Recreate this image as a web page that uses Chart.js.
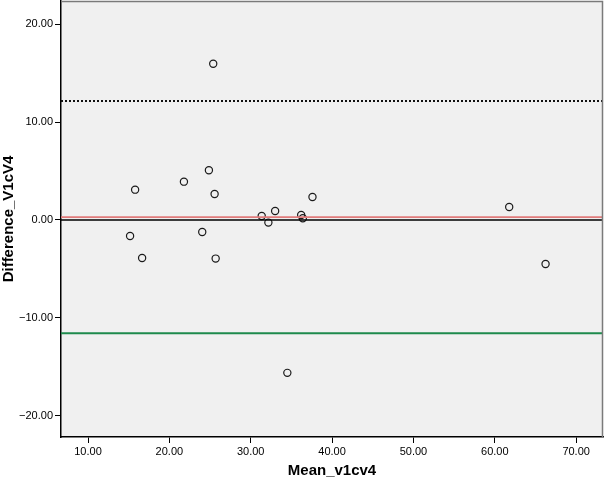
<!DOCTYPE html>
<html>
<head>
<meta charset="utf-8">
<script src="https://cdn.jsdelivr.net/npm/chart.js@4.4.1/dist/chart.umd.min.js"></script>
<style>
  html, body { margin: 0; padding: 0; background: #fff; }
  #wrap { width: 604px; height: 483px; }
</style>
</head>
<body>
<div id="wrap"><canvas id="c" width="604" height="483"></canvas></div>
<script>
// 資料: 平均值 vs 差值 (Bland-Altman)
const meanVals = [25.39, 15.79, 21.79, 24.86, 25.56, 15.17, 16.65, 24.04, 25.69,
                  31.35, 32.17, 33.00, 36.20, 36.40, 37.59, 61.77, 66.24, 34.50];
const diffVals = [15.98, 3.10, 3.92, 5.08, 2.66, -1.64, -3.89, -1.23, -3.95,
                  0.41, -0.27, 0.92, 0.51, 0.17, 2.35, 1.33, -4.50, -15.64];

const xTicks = [10, 20, 30, 40, 50, 60, 70];
const yTicks = [-20, -10, 0, 10, 20];

// 參考線: 平均差、上下限、零線
const meanDiff = 0.29;
const upperLimit = 12.17;
const lowerLimit = -11.59;
const zeroLine = 0;

const xMin = 6.68, xMax = 73.3;
const yMin = -22.2, yMax = 22.4;

const fmt = v => (v < 0 ? '\u2212' + Math.abs(v).toFixed(2) : v.toFixed(2));

function hLine(y) {
    return [{ x: xMin, y: y }, { x: xMax, y: y }];
}

// 背景與外框
const plotBg = {
    id: 'plotBg',
    beforeDraw(chart) {
        const { ctx, chartArea: a } = chart;
        ctx.save();
        ctx.fillStyle = '#f0f0f0';
        ctx.fillRect(a.left, a.top, a.right - a.left, a.bottom - a.top);
        ctx.restore();
    },
    afterDraw(chart) {
        const { ctx, chartArea: a } = chart;
        ctx.save();
        ctx.strokeStyle = '#7a7a7a';
        ctx.lineWidth = 1.5;
        ctx.beginPath();
        ctx.moveTo(a.left, a.top + 0.5);
        ctx.lineTo(a.right - 0.5, a.top + 0.5);
        ctx.lineTo(a.right - 0.5, a.bottom);
        ctx.stroke();
        ctx.restore();
    }
};

const lineDs = (data, color, width, dash) => ({
    type: 'line',
    data: data,
    borderColor: color,
    borderWidth: width,
    borderDash: dash || [],
    pointRadius: 0,
    fill: false
});

const tickFont = { family: '"Liberation Sans", Arial, sans-serif', size: 11 };
const titleFont = { family: '"Liberation Sans", Arial, sans-serif', size: 15, weight: 'bold' };

new Chart(document.getElementById('c').getContext('2d'), {
    type: 'scatter',
    data: {
        datasets: [
            lineDs(hLine(zeroLine), '#000000', 1.5),
            lineDs(hLine(meanDiff), '#e07b7b', 1.8),
            lineDs(hLine(upperLimit), '#111111', 2, [2, 2]),
            lineDs(hLine(lowerLimit), '#1e8a4c', 2),
            {
                data: meanVals.map((m, i) => ({ x: m, y: diffVals[i] })),
                pointStyle: 'circle',
                pointRadius: 3.6,
                pointBorderWidth: 1.2,
                borderColor: '#1a1a1a',
                backgroundColor: 'rgba(0,0,0,0)'
            }
        ]
    },
    options: {
        responsive: false,
        animation: false,
        layout: { autoPadding: false, padding: { top: 1, right: 1, left: 0, bottom: 0 } },
        plugins: { legend: { display: false }, tooltip: { enabled: false } },
        scales: {
            x: {
                type: 'linear',
                min: xMin,
                max: xMax,
                afterBuildTicks: s => { s.ticks = xTicks.map(v => ({ value: v })); },
                afterFit: s => { s.height = 46; s.paddingLeft = 0; s.paddingRight = 0; },
                grid: { drawOnChartArea: false, drawTicks: true, tickLength: 6, color: '#000', tickWidth: 1 },
                border: { display: true, color: '#000', width: 1.5 },
                ticks: {
                    color: '#000',
                    padding: 2,
                    maxRotation: 0,
                    font: tickFont,
                    callback: v => fmt(v)
                },
                title: {
                    display: true,
                    text: 'Mean_v1cv4',
                    color: '#000',
                    padding: { top: 1, bottom: 3 },
                    font: titleFont
                }
            },
            y: {
                type: 'linear',
                min: yMin,
                max: yMax,
                afterBuildTicks: s => { s.ticks = yTicks.map(v => ({ value: v })); },
                afterFit: s => { s.width = 61; s.paddingTop = 0; s.paddingBottom = 0; },
                grid: { drawOnChartArea: false, drawTicks: true, tickLength: 6, color: '#000', tickWidth: 1 },
                border: { display: true, color: '#000', width: 1.5 },
                ticks: {
                    color: '#000',
                    padding: 2,
                    font: tickFont,
                    callback: v => fmt(v)
                },
                title: {
                    display: true,
                    text: 'Difference_V1cV4',
                    color: '#000',
                    padding: { top: 0, bottom: 0 },
                    font: titleFont
                }
            }
        }
    },
    plugins: [plotBg]
});
</script>
</body>
</html>
